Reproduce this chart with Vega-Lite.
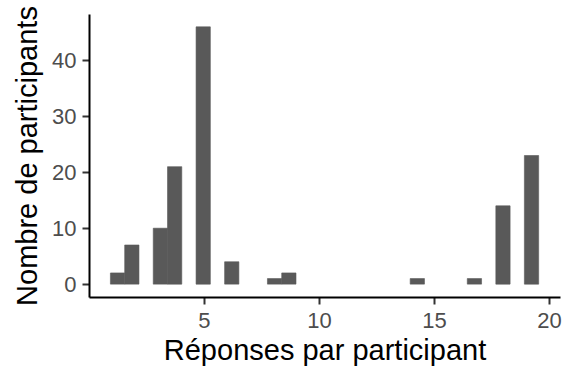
{
  "$schema": "https://vega.github.io/schema/vega-lite/v6.json",
  "autosize": {"type": "none"},
  "width": 471,
  "height": 283,
  "padding": {"left": 89, "top": 14, "right": 16, "bottom": 87},
  "background": "white",
  "config": {
    "view": {"stroke": null},
    "font": "Liberation Sans",
    "axis": {
      "grid": false,
      "domainColor": "black",
      "domainWidth": 2,
      "tickColor": "#333333",
      "tickWidth": 2,
      "tickSize": 7,
      "labelColor": "#4D4D4D",
      "labelFontSize": 22,
      "labelFont": "Liberation Sans",
      "titleFont": "Liberation Sans",
      "titleFontSize": 29,
      "titleFontWeight": "normal",
      "titleColor": "black"
    }
  },
  "data": {
    "values": [
      {"reponses": 1, "participants": 2},
      {"reponses": 2, "participants": 7},
      {"reponses": 3, "participants": 10},
      {"reponses": 4, "participants": 21},
      {"reponses": 5, "participants": 46},
      {"reponses": 6, "participants": 4},
      {"reponses": 8, "participants": 1},
      {"reponses": 9, "participants": 2},
      {"reponses": 14, "participants": 1},
      {"reponses": 17, "participants": 1},
      {"reponses": 18, "participants": 14},
      {"reponses": 19, "participants": 23}
    ]
  },
  "transform": [
    {"bin": {"step": 0.62069, "anchor": 0.3106}, "field": "reponses", "as": ["b0", "b1"]},
    {"aggregate": [{"op": "sum", "field": "participants", "as": "n"}], "groupby": ["b0", "b1"]}
  ],
  "mark": {"type": "bar", "color": "#595959", "stroke": "#595959", "strokeWidth": 0.6},
  "encoding": {
    "x": {
      "field": "b0",
      "type": "quantitative",
      "scale": {"domain": [0, 20.48], "nice": false, "zero": false},
      "axis": {"values": [5, 10, 15, 20], "title": "Réponses par participant", "labelPadding": 6, "titlePadding": 5, "labelFlush": false}
    },
    "x2": {"field": "b1"},
    "y": {
      "field": "n",
      "type": "quantitative",
      "scale": {"domain": [-2.3, 48.3], "nice": false, "zero": false},
      "axis": {"values": [0, 10, 20, 30, 40], "title": "Nombre de participants", "labelPadding": 6, "titlePadding": 9, "labelFlush": false}
    },
    "y2": {"datum": 0}
  }
}
